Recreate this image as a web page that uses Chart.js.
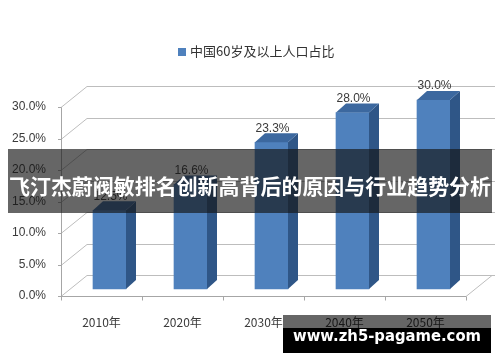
<!DOCTYPE html>
<html>
<head>
<meta charset="utf-8">
<script src="https://cdn.jsdelivr.net/npm/chart.js@4/dist/chart.umd.min.js"></script>
<style>
  html, body { margin: 0; padding: 0; background: #fff; }
  #wrap { width: 500px; height: 362px; }
</style>
</head>
<body>
<div id="wrap"><canvas id="popChart" width="500" height="362"></canvas></div>
<script>
// 中国60岁及以上人口占比 - 3D style bar chart with overlay banners
const years = ['2010年', '2020年', '2030年', '2040年', '2050年'];
const shares = [12.5, 16.6, 23.3, 28.0, 30.0];
const yTicks = [0, 5, 10, 15, 20, 25, 30];
const seriesName = '中国60岁及以上人口占比';
const bannerTitle = '飞汀杰蔚阀敏排名创新高背后的原因与行业趋势分析';
const watermark = 'www.zh5-pagame.com';

const FRONT = '#4f81bd';
const SIDE = '#2f5687';
const TOP = '#3c689f';
const DEPTH = { dx: 10, dy: -9 };

// perspective walls + floor, drawn behind the bars
const wallPlugin = {
  id: 'wallPlugin',
  beforeDatasetsDraw(chart) {
    const { ctx, scales: { x, y } } = chart;
    const half = (x.getPixelForValue(1) - x.getPixelForValue(0)) / 2;
    const frontL = x.getPixelForValue(0) - half - 8;
    const frontR = x.getPixelForValue(years.length - 1) + half - 8;
    ctx.save();
    ctx.strokeStyle = '#bdbdbd';
    ctx.lineWidth = 1;
    yTicks.forEach(v => {
      const py = Math.round(y.getPixelForValue(v)) + 0.5;
      ctx.beginPath();
      ctx.moveTo(frontL, py + 7);
      ctx.lineTo(frontL + 26, py - 14);
      ctx.lineTo(495, py - 14);
      ctx.stroke();
    });
    // floor
    const y0 = Math.round(y.getPixelForValue(0)) + 0.5;
    ctx.beginPath();
    ctx.moveTo(frontL, y0 + 7);
    ctx.lineTo(frontR, y0 + 7);
    ctx.lineTo(frontR + 26, y0 - 14);
    ctx.stroke();
    // front axes with tick marks
    ctx.strokeStyle = '#a6a6a6';
    const yTop = Math.round(y.getPixelForValue(30)) + 7.5;
    ctx.beginPath();
    ctx.moveTo(frontL + 0.5, yTop);
    ctx.lineTo(frontL + 0.5, y0 + 7);
    ctx.lineTo(frontR, y0 + 7);
    yTicks.forEach(v => {
      const py = Math.round(y.getPixelForValue(v)) + 7.5;
      ctx.moveTo(frontL - 3, py);
      ctx.lineTo(frontL + 0.5, py);
    });
    for (let i = 0; i <= years.length; i++) {
      const px = Math.round(frontL + i * half * 2) + 0.5;
      ctx.moveTo(px, y0 + 7);
      ctx.lineTo(px, y0 + 11);
    }
    ctx.stroke();
    ctx.restore();
  },
  afterDatasetsDraw(chart) {
    const { ctx } = chart;
    const meta = chart.getDatasetMeta(0);
    ctx.save();
    meta.data.forEach((bar, i) => {
      const w = bar.width;
      const xl = bar.x - w / 2, xr = bar.x + w / 2;
      const top = bar.y, bottom = bar.base;
      // side face
      ctx.fillStyle = SIDE;
      ctx.beginPath();
      ctx.moveTo(xr, top);
      ctx.lineTo(xr + DEPTH.dx, top + DEPTH.dy);
      ctx.lineTo(xr + DEPTH.dx, bottom + DEPTH.dy);
      ctx.lineTo(xr, bottom);
      ctx.closePath();
      ctx.fill();
      // top face
      ctx.fillStyle = TOP;
      ctx.beginPath();
      ctx.moveTo(xl, top);
      ctx.lineTo(xl + DEPTH.dx, top + DEPTH.dy);
      ctx.lineTo(xr + DEPTH.dx, top + DEPTH.dy);
      ctx.lineTo(xr, top);
      ctx.closePath();
      ctx.fill();
      // value label
      ctx.fillStyle = '#3a3a3a';
      ctx.font = '12px "Liberation Sans", Arial, sans-serif';
      ctx.textAlign = 'center';
      ctx.textBaseline = 'middle';
      ctx.fillText(shares[i].toFixed(1) + '%', bar.x + 1, top - 14);
    });
    ctx.restore();
  },
  afterDraw(chart) {
    const { ctx } = chart;
    ctx.save();
    // legend
    ctx.fillStyle = FRONT;
    ctx.fillRect(178, 48, 8, 8);
    ctx.fillStyle = '#333';
    ctx.font = '13px "Noto Sans CJK SC", sans-serif';
    ctx.textAlign = 'left';
    ctx.textBaseline = 'middle';
    ctx.fillText(seriesName, 190, 51);
    // title banner
    ctx.fillStyle = 'rgba(20, 20, 20, 0.65)';
    ctx.fillRect(8, 149, 484, 64);
    ctx.fillStyle = '#fff';
    ctx.font = 'bold 21px "Noto Sans CJK SC", sans-serif';
    ctx.textAlign = 'center';
    ctx.fillText(bannerTitle, 250, 186, 482);
    // watermark box
    ctx.fillStyle = 'rgba(0, 0, 0, 0.6)';
    ctx.fillRect(283, 315, 208, 13);
    ctx.fillStyle = '#000';
    ctx.fillRect(283, 328, 208, 25);
    ctx.fillStyle = '#fff';
    ctx.font = 'bold 15px "DejaVu Sans", sans-serif';
    ctx.fillText(watermark, 387, 337, 188);
    ctx.restore();
  }
};

new Chart(document.getElementById('popChart'), {
  type: 'bar',
  data: {
    labels: years,
    datasets: [{
      label: seriesName,
      data: shares,
      backgroundColor: FRONT,
      borderWidth: 0,
      barThickness: 33,
      clip: false
    }]
  },
  options: {
    responsive: false,
    animation: false,
    layout: { padding: { top: 100, right: 26, left: 0, bottom: 0 } },
    scales: {
      x: {
        grid: { display: false },
        border: { display: false },
        afterFit(scale) { scale.height = 73; },
        ticks: {
          color: '#3a3a3a',
          font: { size: 12, family: '"Noto Sans CJK SC", sans-serif' },
          padding: 18,
          labelOffset: -8,
          maxRotation: 0
        }
      },
      y: {
        min: 0,
        max: 30,
        afterFit(scale) { scale.width = 69; },
        afterBuildTicks(scale) { scale.ticks = yTicks.map(v => ({ value: v })); },
        grid: { display: false, drawTicks: false },
        border: { display: false },
        ticks: {
          color: '#3a3a3a',
          font: { size: 12, family: '"Liberation Sans", Arial, sans-serif' },
          padding: 23,
          labelOffset: 7,
          callback: v => v.toFixed(1) + '%'
        }
      }
    },
    plugins: {
      legend: { display: false },
      tooltip: { enabled: false }
    }
  },
  plugins: [wallPlugin]
});
</script>
</body>
</html>
